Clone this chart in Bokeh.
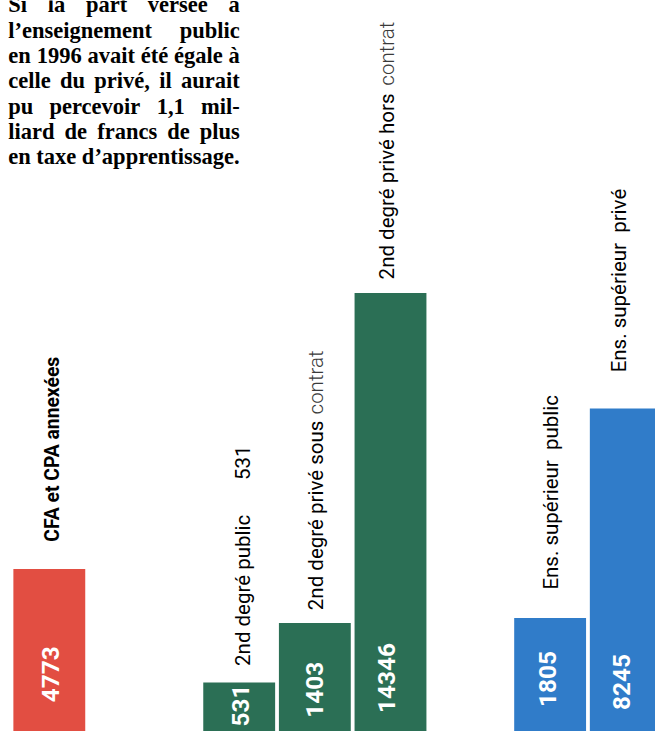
import math
from bokeh.plotting import figure
from bokeh.models import Range1d, ColumnDataSource
from bokeh.core.properties import value
from bokeh.embed import file_html
from bokeh.resources import INLINE

# ---------------- data ----------------
categories = ["CFA et CPA annexées", "2nd degré public", "2nd degré privé sous contrat",
              "2nd degré privé hors contrat", "Ens. supérieur public", "Ens. supérieur privé"]
groups = ["CFA", "2nd degré", "2nd degré", "2nd degré", "Supérieur", "Supérieur"]
values = [4773, 531, 1403, 14346, 1805, 8245]
# bar heights as drawn in the graphic (visual units)
heights = [166, 50, 111, 448, 116, 330]
group_colors = {"CFA": "#E24E42", "2nd degré": "#2B6F55", "Supérieur": "#307CC9"}

paragraph = ["Si la part versée à", "l’enseignement public", "en 1996 avait été égale à",
             "celle du privé, il aurait", "pu percevoir 1,1 mil-", "liard de francs de plus",
             "en taxe d’apprentissage."]

# ---------------- layout ----------------
W, H = 655, 731            # figure size; it shows the whole 671 x 747 graphic
REF_W, REF_H = 671, 747
K = W / REF_W              # font scale
def fs(px):
    return "%.1fpx" % (px * K)

NB = "\u00a0"
label_main = ["CFA et CPA annexées", "2nd degré public", "2nd degré privé sous",
              "2nd degré privé hors", "Ens. supérieur" + NB + " public", "Ens. supérieur" + NB + " privé"]
label_bold = [True, False, False, False, False, False]
label_gap = [28, 17, 13, 14, 29, 37]          # gap between bar top and label start
label_dx = [3, 3.5, 1.5, -4, 0.5, -7]         # horizontal nudge
# trailing pieces of labels: (bar index, text, offset from label start, font, colour)
label_tail = [(1, str(values[1]), 190, "Roboto", "black"),
              (2, "contrat", 200, "Roboto Light, Roboto", "#3a3a3a"),
              (3, "contrat", 198, "Roboto Light, Roboto", "#3a3a3a")]
value_lift = [30, 5, 14, 19, 25, 22]          # from graphic bottom to value start
value_dx = [1, 1.5, -0.5, -4, -2.5, -4]

SLOT = 77.5   # graphic px per slot
X0 = 50       # graphic x of the first bar centre
group_gap = {"2nd degré": 2.51, "Supérieur": 2.11}
xpos = []
cur = 0.0
for i, g in enumerate(groups):
    if i > 0:
        cur += group_gap[g] if g != groups[i - 1] else 1.0
    xpos.append(cur)
colors = [group_colors[g] for g in groups]

def X(px):
    return (px - X0) / SLOT

p = figure(width=W, height=H, output_backend="svg", toolbar_location=None,
           x_range=Range1d(X(0), X(REF_W)), y_range=Range1d(0, REF_H),
           min_border=0, background_fill_color="white", border_fill_color="white")
p.axis.visible = False
p.grid.visible = False
p.outline_line_color = None

src = ColumnDataSource(dict(x=xpos, top=heights, color=colors, cat=categories, val=values))
p.vbar(x="x", top="top", bottom=-20, width=0.95, fill_color="color", line_color=None, source=src)

SANS = value("Roboto")

# category labels
for i in range(len(categories)):
    x = xpos[i] + label_dx[i] / SLOT
    y = heights[i] + label_gap[i]
    p.text(x=[x], y=[y], text=[label_main[i]], angle=math.pi / 2,
           text_font=SANS, text_font_size=fs(19.8) if label_bold[i] else fs(21),
           text_font_style="bold" if label_bold[i] else "normal",
           text_align="left", text_baseline="middle", text_color="black")

for i, t, off, font, col in label_tail:
    x = xpos[i] + label_dx[i] / SLOT
    y = heights[i] + label_gap[i] + off
    p.text(x=[x], y=[y], text=[t], angle=math.pi / 2,
           text_font=value(font), text_font_size=fs(21),
           text_align="left", text_baseline="middle", text_color=col)

# values inside bars
for i in range(len(values)):
    x = xpos[i] + value_dx[i] / SLOT
    p.text(x=[x], y=[value_lift[i]], text=[str(values[i])], angle=math.pi / 2,
           text_font=SANS, text_font_size=fs(25), text_font_style="bold",
           text_align="left", text_baseline="middle", text_color="white")

# justified paragraph (Times-Bold-like metrics, em units)
CW = {"a": .5, "b": .556, "c": .444, "d": .556, "e": .444, "f": .333, "g": .5, "h": .556,
      "i": .278, "j": .333, "k": .556, "l": .278, "m": .833, "n": .556, "o": .5, "p": .556,
      "q": .556, "r": .444, "s": .389, "t": .333, "u": .556, "v": .5, "w": .722, "x": .5,
      "y": .5, "z": .444, ",": .25, ".": .25, "-": .333, "’": .333, "S": .556,
      "é": .444, "à": .5}
PFS = 23
def wwidth(w):
    return sum(CW.get(c, .5) for c in w) * PFS

LEFT, RIGHT = 8, 245
LINE0, LEAD = 4.5, 25.9
for li, line in enumerate(paragraph):
    base = REF_H - (LINE0 + li * LEAD)
    words = line.split(" ")
    n = len(words)
    widths = [wwidth(w) for w in words]
    gap = (RIGHT - LEFT - sum(widths)) / (n - 1) if n > 1 else 0
    xx = LEFT
    for wi, w in enumerate(words):
        p.text(x=[X(xx)], y=[base], text=[w], text_font=value("Liberation Serif"),
               text_font_size=fs(PFS), text_font_style="bold", text_align="left",
               text_baseline="alphabetic", text_color="black")
        xx += widths[wi] + gap

open("out.html", "w").write(file_html(p, INLINE))
